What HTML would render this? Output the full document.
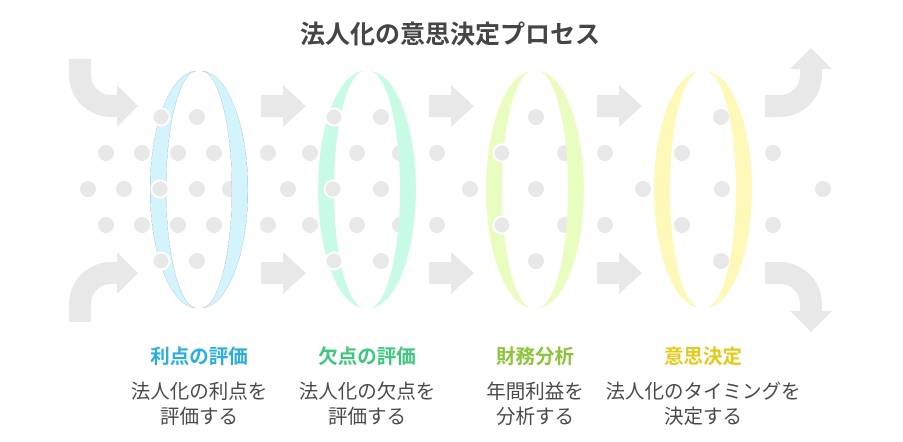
<!DOCTYPE html>
<html><head><meta charset="utf-8"><style>
html,body{margin:0;padding:0;background:#fff;}
body{width:903px;height:442px;overflow:hidden;position:relative;font-family:"Liberation Sans","Noto Sans CJK JP",sans-serif;}
.t{position:absolute;white-space:nowrap;text-align:center;transform:translateX(-50%);}
.title{left:450px;top:19px;font-size:25px;font-weight:bold;color:#454545;line-height:32px;}
.h{top:344px;font-size:19.5px;font-weight:bold;line-height:26px;}
.b{top:380px;font-size:19.5px;color:#4a4a4a;line-height:25px;}
</style></head><body>
<svg width="903" height="442" style="position:absolute;left:0;top:0">
<g fill="#e8e8e8">
<g id="sa"><polygon points="261,95 283,95 283,85 306,106 283,127 283,117 261,117"/></g>
<use href="#sa" x="168"/><use href="#sa" x="336"/>
<use href="#sa" y="167"/><use href="#sa" x="168" y="167"/><use href="#sa" x="336" y="167"/>
<polygon points="117,85 138,106 117,127"/>
<polygon points="117,252 138,273 117,294"/>
<polygon points="790,69 811,48 832,69"/>
<polygon points="790,311 811,332 832,311"/>
</g>
<g fill="none" stroke="#e8e8e8" stroke-width="22">
<path d="M80,59 V75 A31,31 0 0 0 111,106 H119"/>
<path d="M119,273 H111 A31,31 0 0 0 80,304 V322"/>
<path d="M765,106 H780 A31,31 0 0 0 811,75 V68"/>
<path d="M765,273 H780 A31,31 0 0 1 811,304 V312"/>
</g>
<g fill="#e8e8e8">
<circle cx="197" cy="117" r="8"/><circle cx="381" cy="117" r="8"/><circle cx="536" cy="117" r="8"/><circle cx="721" cy="117" r="8"/>
<circle cx="197" cy="261" r="8"/><circle cx="381" cy="261" r="8"/><circle cx="536" cy="261" r="8"/><circle cx="721" cy="261" r="8"/>
<g id="r153">
<circle cx="106" cy="153" r="8"/><circle cx="142" cy="153" r="8"/><circle cx="178" cy="153" r="8"/><circle cx="214" cy="153" r="8"/>
<circle cx="268" cy="153" r="8"/><circle cx="310" cy="153" r="8"/><circle cx="357" cy="153" r="8"/><circle cx="400" cy="153" r="8"/>
<circle cx="437" cy="153" r="8"/><circle cx="565" cy="153" r="8"/><circle cx="605" cy="153" r="8"/><circle cx="682" cy="153" r="8"/><circle cx="773" cy="153" r="8"/>
</g>
<use href="#r153" y="72"/>
<circle cx="88" cy="189" r="8"/><circle cx="124" cy="189" r="8"/><circle cx="197" cy="189" r="8"/><circle cx="230" cy="189" r="8"/>
<circle cx="288" cy="189" r="8"/><circle cx="381" cy="189" r="8"/><circle cx="470" cy="189" r="8"/><circle cx="536" cy="189" r="8"/>
<circle cx="643" cy="189" r="8"/><circle cx="722" cy="189" r="8"/><circle cx="823" cy="189" r="8"/>
</g>
<g id="ring">
<path d="M197,71 A47,118.5 0 0 0 197,308 A31,118.5 0 0 1 197,71 Z"/>
<path d="M201,71 A47,118.5 0 0 1 201,308 A31,118.5 0 0 0 201,71 Z"/>
</g>
<g fill="#d3f3fd"><use href="#ring"/></g>
<g fill="#c8fbe5"><use href="#ring" x="168"/></g>
<g fill="#eafdc0"><use href="#ring" x="336"/></g>
<g fill="#fef8b9"><use href="#ring" x="504"/></g>
<g fill="#e8e8e8" stroke="#fff" stroke-width="2">
<circle cx="161" cy="117" r="8.5"/><circle cx="160" cy="189" r="8.5"/><circle cx="161" cy="261" r="8.5"/>
<circle cx="334" cy="117" r="8.5"/><circle cx="333" cy="189" r="8.5"/><circle cx="334" cy="261" r="8.5"/>
<circle cx="502" cy="153" r="8.5"/><circle cx="502" cy="225" r="8.5"/>
</g>
</svg>
<div class="t title">法人化の意思決定プロセス</div>
<div class="t h" style="left:199px;color:#2aaede">利点の評価</div>
<div class="t h" style="left:367px;color:#3cc97e">欠点の評価</div>
<div class="t h" style="left:535px;color:#8ec43c">財務分析</div>
<div class="t h" style="left:703px;color:#e3cb1a">意思決定</div>
<div class="t b" style="left:199px">法人化の利点を<br>評価する</div>
<div class="t b" style="left:367px">法人化の欠点を<br>評価する</div>
<div class="t b" style="left:535px">年間利益を<br>分析する</div>
<div class="t b" style="left:703px">法人化のタイミングを<br>決定する</div>
</body></html>
